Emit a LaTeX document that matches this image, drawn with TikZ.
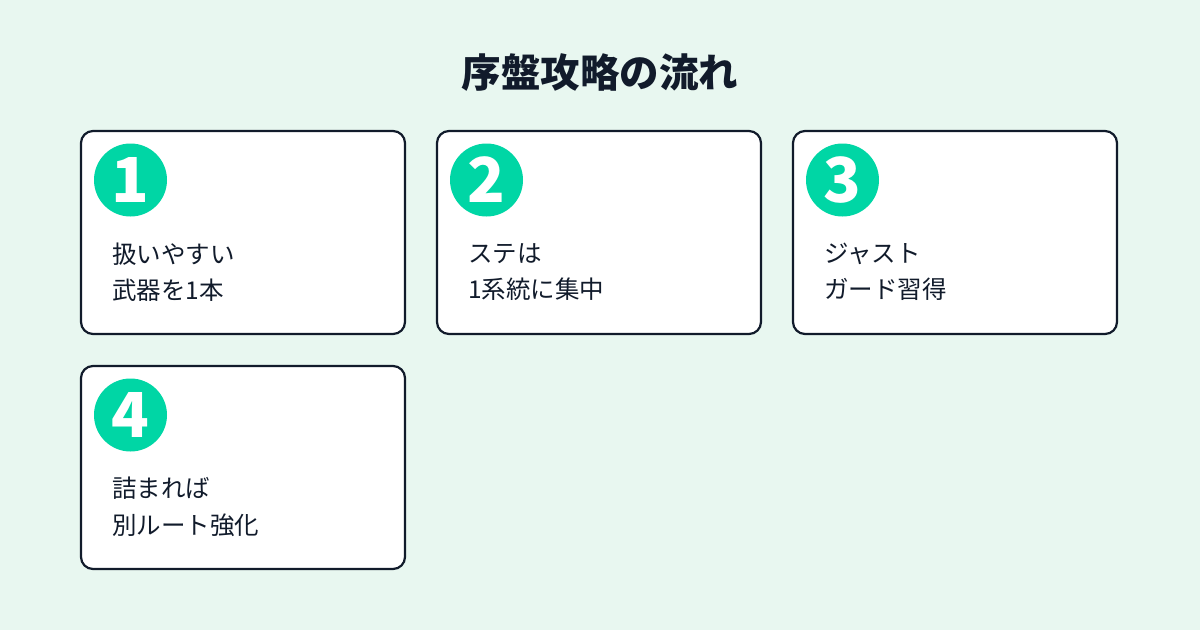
\documentclass[tikz,border=0pt]{standalone}
\usepackage{fontspec}
\setmainfont{Noto Sans CJK JP}
\definecolor{bgmint}{HTML}{E8F7F0}
\definecolor{stepgreen}{HTML}{00D6A5}
\definecolor{inkblue}{HTML}{111B2B}
\tikzset{
  card/.style={draw=inkblue,line width=2.2pt,fill=white,rounded corners=12pt,
    minimum width=324pt,minimum height=203pt,inner sep=0},
  badge/.style={circle,fill=stepgreen,minimum size=73pt,inner sep=0,text=white,
    font=\fontsize{62}{62}\selectfont\bfseries},
  cardtext/.style={anchor=west,inner sep=0,align=left,text=inkblue,
    font=\fontsize{24.5}{36.5}\selectfont}
}

\begin{document}
\begin{tikzpicture}[x=1pt,y=-1pt]
  % background, 1200 x 630
  \fill[bgmint] (0,0) rectangle (1200,630);
  \useasboundingbox (0,0) rectangle (1200,630);

  \node[font=\fontsize{39.5}{39.5}\selectfont\bfseries,text=inkblue] (title) at (600,73) {序盤攻略の流れ};

  % step cards
  \foreach \i/\cx/\cy/\txt in {1/243/232.5/{扱いやすい\\武器を1本},
                              2/599/232.5/{ステは\\1系統に集中},
                              3/955/232.5/{ジャスト\\ガード習得},
                              4/243/467.5/{詰まれば\\別ルート強化}}{
    \node[card] (box\i) at (\cx,\cy) {};
    \node[badge] (num\i) at ([shift={(-112.5,-52.5)}]box\i.center) {\i};
    \node[cardtext] (txt\i) at ([shift={(-131,39.5)}]box\i.center) {\txt};
  }
\end{tikzpicture}
\end{document}
